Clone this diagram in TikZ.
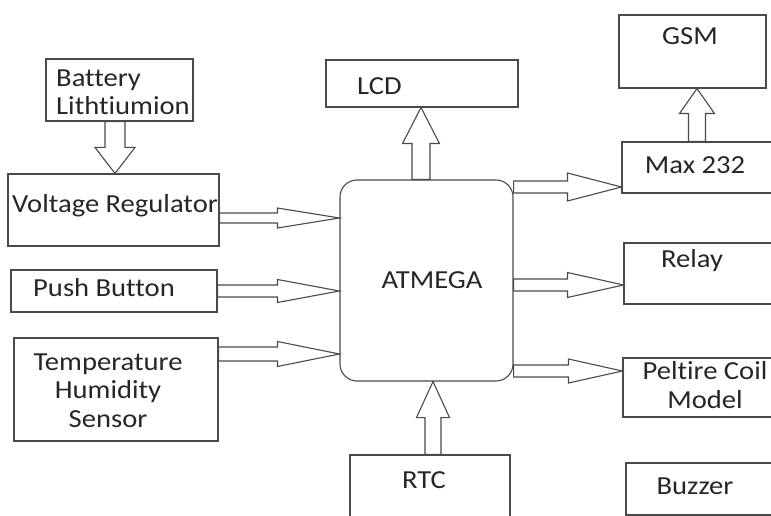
\documentclass[tikz,border=0pt]{standalone}
\usepackage{fontspec}
\setmainfont{Carlito}[FakeStretch=1.1, Ligatures=NoCommon]
\usetikzlibrary{calc}

\definecolor{linegray}{HTML}{4A4A4A}
\definecolor{textgray}{HTML}{262626}

\tikzset{
  box/.style={draw=linegray, line width=1.1pt, inner sep=0pt},
  lbl/.style={font=\fontsize{26}{28.5}\selectfont, text=textgray, inner sep=0pt},
  blkline/.style={draw=linegray, line width=1.1pt, line join=miter}
}

% hollow block arrow: shaft half width, head half width, head length, from, to
\newcommand\blkarrow[5]{%
  \draw[blkline] let \p1=(#4), \p2=(#5),
    \n1={veclen(\x2-\x1,\y2-\y1)}, \n2={(\x2-\x1)/\n1}, \n3={(\y2-\y1)/\n1} in
    ({\x1-#1*(\n3)},{\y1+#1*(\n2)})
    -- ({\x2-#3*(\n2)-#1*(\n3)},{\y2-#3*(\n3)+#1*(\n2)})
    -- ({\x2-#3*(\n2)-#2*(\n3)},{\y2-#3*(\n3)+#2*(\n2)})
    -- (\p2)
    -- ({\x2-#3*(\n2)+#2*(\n3)},{\y2-#3*(\n3)-#2*(\n2)})
    -- ({\x2-#3*(\n2)+#1*(\n3)},{\y2-#3*(\n3)-#1*(\n2)})
    -- ({\x1+#1*(\n3)},{\y1-#1*(\n2)}) -- cycle;}

\begin{document}
\begin{tikzpicture}[x=1pt,y=-1pt]
  \useasboundingbox (0,0) rectangle (771,516);
  \clip (0,0) rectangle (771,516);

  \begin{scope}
    \node[box, minimum width=147, minimum height=62] (bat) at (119.5,90) {};
    \node[box, minimum width=211, minimum height=72] (vr) at (113.5,210) {};
    \node[box, minimum width=206, minimum height=42] (pb) at (114,291) {};
    \node[box, minimum width=204, minimum height=103] (temp) at (116,389.5) {};
    \node[box, minimum width=173, minimum height=201, rounded corners=17pt]
      (atm) at (426.5,280.5) {};
    \node[box, minimum width=192, minimum height=47] (lcd) at (422,83.5) {};
    \node[box, minimum width=147, minimum height=73] (gsm) at (692.5,51.5) {};
    \node[box, minimum width=158, minimum height=51] (max) at (701,167.5) {};
    \node[box, minimum width=156, minimum height=61] (relay) at (702,273.5) {};
    \node[box, minimum width=157, minimum height=59] (pel) at (701.5,387.5) {};
    \node[box, minimum width=154, minimum height=52] (buz) at (703,489) {};
    \node[box, minimum width=160, minimum height=75] (rtc) at (430,492.5) {};
  \end{scope}

  % multi-line texts sit on the baseline of their last line
  \begin{scope}[lbl]
    \node[anchor=base west, align=left] (bat-t) at (56,115) {Battery\\Lithtiumion};
    \node[anchor=base west] (vr-t) at (12,212) {Voltage Regulator};
    \node[anchor=base west] (pb-t) at (33,296) {Push Button};
    \node[anchor=base, align=center] (temp-t) at (108,427)
      {Temperature\\Humidity\\Sensor};
    \node[anchor=base] (atm-t) at (432,288) {ATMEGA};
    \node[anchor=base west] (lcd-t) at (357,95) {LCD};
    \node[anchor=base] (gsm-t) at (690,45) {GSM};
    \node[anchor=base] (max-t) at (695,174) {Max 232};
    \node[anchor=base] (relay-t) at (692,267) {Relay};
    \node[anchor=base, align=center] (pel-t) at (705,408) {Peltire Coil\\Model};
    \node[anchor=base] (rtc-t) at (424,488) {RTC};
    \node[anchor=base] (buz-t) at (695,494) {Buzzer};
  \end{scope}

  % guide lines for the arrows
  \coordinate (bat-x) at (115,0);
  \coordinate (vr-y) at (0,218);
  \coordinate (pb-y) at (0,291);
  \coordinate (temp-y) at (0,354);
  \coordinate (lcd-x) at (421,0);
  \coordinate (max-y) at (0,187);
  \coordinate (relay-y) at (0,285);
  \coordinate (pel-y) at (0,371);
  \coordinate (rtc-x) at (433,0);
  \coordinate (gsm-x) at (697,0);

  \blkarrow{10}{20}{26}{bat.south -| bat-x}{vr.north -| bat-x}
  \blkarrow{5}{10}{62}{vr.east |- vr-y}{atm.west |- vr-y}
  \blkarrow{6}{11.5}{62}{pb.east |- pb-y}{atm.west |- pb-y}
  \blkarrow{7}{12.5}{62}{temp.east |- temp-y}{atm.west |- temp-y}
  \blkarrow{9}{18.5}{36}{atm.north -| lcd-x}{lcd.south -| lcd-x}
  \blkarrow{6}{14}{54}{atm.east |- max-y}{max.west |- max-y}
  \blkarrow{6}{12.5}{56}{atm.east |- relay-y}{relay.west |- relay-y}
  \blkarrow{6}{12}{54}{atm.east |- pel-y}{pel.west |- pel-y}
  \blkarrow{8}{16.5}{36}{rtc.north -| rtc-x}{atm.south -| rtc-x}
  \blkarrow{8.5}{17.5}{25}{max.north -| gsm-x}{gsm.south -| gsm-x}
\end{tikzpicture}
\end{document}
